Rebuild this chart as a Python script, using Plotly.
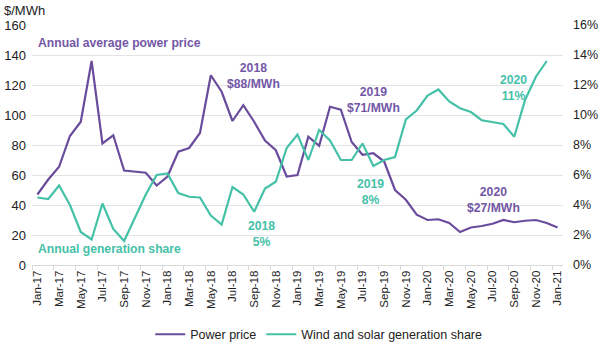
import plotly.graph_objects as go

# Monthly categories, Jan-17 .. Jan-21
months = [
    "Jan-17", "Feb-17", "Mar-17", "Apr-17", "May-17", "Jun-17", "Jul-17", "Aug-17",
    "Sep-17", "Oct-17", "Nov-17", "Dec-17",
    "Jan-18", "Feb-18", "Mar-18", "Apr-18", "May-18", "Jun-18", "Jul-18", "Aug-18",
    "Sep-18", "Oct-18", "Nov-18", "Dec-18",
    "Jan-19", "Feb-19", "Mar-19", "Apr-19", "May-19", "Jun-19", "Jul-19", "Aug-19",
    "Sep-19", "Oct-19", "Nov-19", "Dec-19",
    "Jan-20", "Feb-20", "Mar-20", "Apr-20", "May-20", "Jun-20", "Jul-20", "Aug-20",
    "Sep-20", "Oct-20", "Nov-20", "Dec-20",
    "Jan-21",
]

# Monthly average wholesale power price, $/MWh
power_price = [
    47, 57, 65.5, 86, 95.5, 136, 81, 86.5, 63, 62, 61.5, 53,
    59, 75.5, 78, 88, 126.5, 115.5, 96, 106.5, 95.5, 83, 76.5, 59,
    60, 85.5, 79.5, 105.5, 103.5, 82, 73.5, 74.5, 69, 50, 43.5, 33.5,
    30, 30.5, 28, 22, 25, 26, 27.5, 30, 28.5, 29.5, 30, 28,
    25,
]

# Wind and solar share of generation, % (through Dec-20)
gen_share = [
    4.5, 4.4, 5.3, 4.0, 2.2, 1.7, 4.1, 2.4, 1.6, 3.2, 4.7, 6.0,
    6.1, 4.8, 4.55, 4.5, 3.3, 2.7, 5.2, 4.7, 3.55, 5.1, 5.55, 7.8,
    8.7, 7.0, 9.0, 8.3, 7.0, 7.0, 8.1, 6.6, 7.0, 7.2, 9.7, 10.3,
    11.3, 11.7, 10.9, 10.45, 10.2, 9.65, 9.55, 9.4, 8.55, 11.0, 12.55, 13.6,
]

PURPLE = "#6a4c9c"
PURPLE_TXT = "#7357a6"
TEAL = "#45c1a8"
FONT = "Liberation Sans, Arial, sans-serif"

x_idx = list(range(len(months)))

fig = go.Figure()
fig.add_trace(go.Scatter(
    x=x_idx, y=power_price, mode="lines", name="Power price",
    line=dict(color=PURPLE, width=2.2),
))
fig.add_trace(go.Scatter(
    x=x_idx[:len(gen_share)], y=gen_share, mode="lines",
    name="Wind and solar generation share",
    line=dict(color=TEAL, width=2.2), yaxis="y2",
))

annotations = [
    dict(text="<b>Annual average power price</b>", x=-0.15, y=148, xanchor="left",
         yanchor="middle", color=PURPLE_TXT, yref="y"),
    dict(text="<b>2018<br>$88/MWh</b>", x=19.9, y=126, xanchor="center",
         yanchor="middle", color=PURPLE_TXT, yref="y"),
    dict(text="<b>2019<br>$71/MWh</b>", x=31.0, y=110, xanchor="center",
         yanchor="middle", color=PURPLE_TXT, yref="y"),
    dict(text="<b>2020<br>$27/MWh</b>", x=42.1, y=43.5, xanchor="center",
         yanchor="middle", color=PURPLE_TXT, yref="y"),
    dict(text="<b>Annual generation share</b>", x=-0.15, y=1.07, xanchor="left",
         yanchor="middle", color=TEAL, yref="y2"),
    dict(text="<b>2018<br>5%</b>", x=20.7, y=2.05, xanchor="center",
         yanchor="middle", color=TEAL, yref="y2"),
    dict(text="<b>2019<br>8%</b>", x=30.7, y=4.85, xanchor="center",
         yanchor="middle", color=TEAL, yref="y2"),
    dict(text="<b>2020<br>11%</b>", x=43.9, y=11.8, xanchor="center",
         yanchor="middle", color=TEAL, yref="y2"),
]
for a in annotations:
    fig.add_annotation(
        text=a["text"], x=a["x"], y=a["y"], xref="x", yref=a["yref"],
        xanchor=a["xanchor"], yanchor=a["yanchor"], showarrow=False,
        font=dict(family=FONT, size=12.2, color=a["color"]), align="center",
    )

fig.add_annotation(
    text="$/MWh", xref="paper", yref="paper", x=-0.056, y=1.0,
    xanchor="left", yanchor="bottom", yshift=5, showarrow=False,
    font=dict(family=FONT, size=13, color="#222222"),
)

fig.update_layout(
    width=600, height=348,
    margin=dict(l=32, r=37, t=25, b=83, autoexpand=False),
    paper_bgcolor="white", plot_bgcolor="white",
    font=dict(family=FONT, size=12, color="#222222"),
    showlegend=True,
    legend=dict(orientation="h", x=0.54, xanchor="center", y=-0.29,
                yanchor="middle", font=dict(family=FONT, size=12.5),
                itemwidth=30),
    xaxis=dict(
        range=[-0.5, len(months) - 0.5], automargin=False,
        tickmode="array", tickvals=x_idx[::2], ticktext=months[::2],
        tickangle=-90, tickfont=dict(size=11.5, color="#222222"),
        showgrid=False, ticks="", zeroline=False,
        showline=True, linecolor="#d9d9d9", linewidth=1,
        minor=dict(ticks="outside", tick0=-0.5, dtick=2, ticklen=4,
                   tickcolor="#d9d9d9", showgrid=False),
    ),
    yaxis=dict(
        range=[0, 160], dtick=20, showgrid=True, gridcolor="#e3e3e3",
        zeroline=False, ticks="", tickfont=dict(size=13, color="#222222"),
        ticklabelstandoff=5, automargin=False,
    ),
    yaxis2=dict(
        range=[0, 16], dtick=2, ticksuffix="%", overlaying="y", side="right",
        showgrid=False, zeroline=False, ticks="", automargin=False,
        tickfont=dict(size=12.5, color="#222222"), ticklabelstandoff=9,
    ),
)

fig.write_html("out.html")
